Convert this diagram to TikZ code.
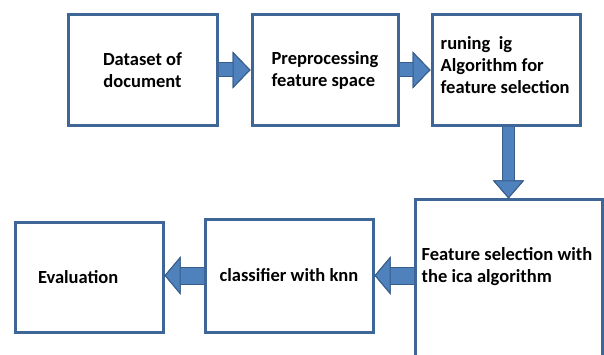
\documentclass[tikz,border=0pt]{standalone}
\usepackage{fontspec}
\setmainfont{Carlito}
\usetikzlibrary{arrows.meta,positioning}

\definecolor{boxline}{RGB}{62,102,150}
\definecolor{arrowfill}{RGB}{79,129,189}
\definecolor{arrowedge}{RGB}{56,93,138}

\tikzset{
  stage/.style={draw=boxline, line width=3pt, fill=white, inner sep=0pt,
    font=\bfseries\fontsize{18.5}{22}\selectfont},
  stagetext/.style={inner sep=0pt, font=\bfseries\fontsize{18.5}{22}\selectfont},
  flow/.style n args={4}{
    preaction={draw=arrowedge, line width=#2,
      -{Triangle[width=#3,length=#4,line width=1pt,color=arrowedge,fill=arrowfill]}},
    draw=arrowfill, line width=#1,
    -{Triangle[width=#3,length=#4,line width=1pt,color=arrowedge,fill=arrowfill]}},
}

\begin{document}
\begin{tikzpicture}[x=1pt,y=-1pt]
    \useasboundingbox (0,0) rectangle (604,355);

    \node[stage, minimum width=149pt, minimum height=111pt, align=center] at (142.5,70) (dataset) {Dataset of\\document};
    \node[stage, minimum width=146pt, minimum height=111pt, align=left] at (325,70) (preproc) {Preprocessing\\feature space};
    \node[stage, minimum width=148pt, minimum height=111pt] at (506,70) (igalgo) {};
    \node[stagetext, anchor=west, align=left] at ([xshift=10pt,yshift=5pt]igalgo.west) (igtext) {runing\ \ ig\\Algorithm for\\feature selection};

    \node[stage, minimum width=187pt, minimum height=158pt] at (508.5,279) (icasel) {};
    \node[stagetext, anchor=west, align=left] at ([xshift=8pt,yshift=12pt]icasel.west) (icatext) {Feature selection with\\the ica algorithm};
    \node[stage, minimum width=168pt, minimum height=113pt, align=center] at (289,275.5) (knn) {classifier with knn};
    \node[stage, minimum width=148pt, minimum height=110pt, text width=102pt, align=left] at (89,277) (evaluation) {Evaluation};

    \draw[flow={13pt}{15pt}{37pt}{18pt}] (dataset) -- (preproc);
    \draw[flow={13pt}{15pt}{37pt}{18pt}] (preproc) -- (igalgo);
    \draw[flow={11pt}{13pt}{31pt}{18pt}] (icasel.north |- igalgo.south) -- (icasel.north);
    \draw[flow={16pt}{18pt}{38pt}{16pt}] (knn.east -| icasel.west) -- (knn.east);
    \draw[flow={16pt}{18pt}{38pt}{16pt}] (knn.west) -- (knn.west -| evaluation.east);

\end{tikzpicture}
\end{document}
